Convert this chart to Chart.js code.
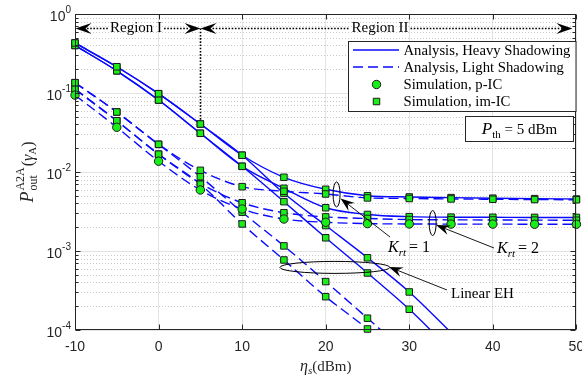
<!DOCTYPE html>
<html>
<head>
<meta charset="utf-8">
<script src="https://cdn.jsdelivr.net/npm/chart.js@4/dist/chart.umd.min.js"></script>
<style>
  html, body { margin: 0; padding: 0; background: #fff; }
  #wrap { width: 582px; height: 378px; }
</style>
</head>
<body>
<div id="wrap"><canvas id="c" width="582" height="378"></canvas></div>
<script>
// Transmit power eta_s in dBm
const etaS = [-10, -5, 0, 5, 10, 15, 20, 25, 30, 35, 40, 45, 50];

// Heavy shadowing, analysis (solid) - non-linear EH, K_rt = 1 / 2
const heavyK1 = [0.43, 0.215, 0.098, 0.0405, 0.0163, 0.00857, 0.00604, 0.00501, 0.00483, 0.00474, 0.00466, 0.0046, 0.00455];
const heavyK2 = [0.40, 0.191, 0.0815, 0.0309, 0.0118, 0.00622, 0.00353, 0.0029, 0.00272, 0.00268, 0.00267, 0.00266, 0.00266];
// Heavy shadowing, linear EH
const heavyK1Linear = [0.43, 0.215, 0.098, 0.0405, 0.0163, 0.00537, 0.0021, 0.00082, 0.000303, 0.000093, null, null, null];
const heavyK2Linear = [0.40, 0.191, 0.0815, 0.0309, 0.0118, 0.00421, 0.00147, 0.000527, 0.000183, 0.000055, null, null, null];

// Light shadowing, analysis (dashed) - non-linear EH, im-IC
const lightK1 = [0.135, 0.0575, 0.0224, 0.0105, 0.00652, 0.0057, 0.00527, 0.0047, 0.00462, 0.00456, 0.00452, 0.00448, 0.00445];
const lightK2 = [0.112, 0.0445, 0.0168, 0.00719, 0.00408, 0.00305, 0.0027, 0.00258, 0.0025, 0.00248, 0.00247, 0.00246, 0.00245];
// Light shadowing, linear EH
const lightK1Linear = [0.135, 0.0575, 0.0224, 0.00873, 0.0031, 0.00116, 0.00041, 0.000141, 0.000048, null, null, null, null];
const lightK2Linear = [0.112, 0.0445, 0.0168, 0.0070, 0.0022, 0.00077, 0.000264, 0.000103, 0.000036, null, null, null, null];
// Light shadowing, p-IC
const lightK2pIC = [0.094, 0.0368, 0.0137, 0.00592, 0.0034, 0.00254, 0.00231, 0.00222, 0.0022, 0.00219, 0.00219, 0.00218, 0.00218];

// y-axis decades
const yDecades = [0, -1, -2, -3, -4];
const xTickValues = [-10, 0, 10, 20, 30, 40, 50];

const SERIF = '"Liberation Serif", "Times New Roman", serif';
const SANS = '"Liberation Sans", Arial, sans-serif';
const AXIS = '#262626';
const BLUE = '#0a0aff';
const GREEN = '#19ee19';
const EDGE = '#1c1c1c';
const DASH = [10, 5];
const Y_MIN = 1e-4;

function pts(arr) {
  return etaS.map((x, i) => ({ x, y: arr[i] }));
}
function markerPts(arr) {
  return etaS.map((x, i) => ({ x, y: (arr[i] !== null && arr[i] >= Y_MIN) ? arr[i] : null }));
}

function lineSet(arr, dashed) {
  return {
    data: pts(arr), borderColor: BLUE, borderWidth: 1.4, borderDash: dashed ? DASH : [],
    pointRadius: 0, fill: false, cubicInterpolationMode: 'monotone', order: 2, spanGaps: false
  };
}
function markerSet(arr, style) {
  return {
    data: markerPts(arr), showLine: false, pointStyle: style,
    pointRadius: style === 'circle' ? 4.2 : 4.6,
    pointBackgroundColor: GREEN, pointBorderColor: EDGE, pointBorderWidth: 1,
    order: 0, clip: false
  };
}

const datasets = [
  lineSet(heavyK1, false), lineSet(heavyK2, false),
  lineSet(heavyK1Linear, false), lineSet(heavyK2Linear, false),
  lineSet(lightK1, true), lineSet(lightK2, true),
  lineSet(lightK1Linear, true), lineSet(lightK2Linear, true),
  lineSet(lightK2pIC, true),
  markerSet(lightK2pIC, 'circle'),
  markerSet(lightK1Linear, 'rect'), markerSet(lightK2Linear, 'rect'),
  markerSet(lightK1, 'rect'), markerSet(lightK2, 'rect'),
  markerSet(heavyK1Linear, 'rect'), markerSet(heavyK2Linear, 'rect'),
  markerSet(heavyK1, 'rect'), markerSet(heavyK2, 'rect')
];

// ---- drawing helpers ----
function arrowHead(ctx, tx, ty, ang, L, W, N) {
  ctx.save();
  ctx.translate(tx, ty);
  ctx.rotate(ang);
  ctx.beginPath();
  ctx.moveTo(0, 0);
  ctx.lineTo(-L, -W);
  ctx.lineTo(-L + N, 0);
  ctx.lineTo(-L, W);
  ctx.closePath();
  ctx.fillStyle = '#000';
  ctx.fill();
  ctx.restore();
}

// draws runs of text; part: {t, f, dy} or {sup:{t,f,dy}, sub:{t,f,dy}}
function runWidth(ctx, parts) {
  let w = 0;
  for (const p of parts) {
    if (p.sup) {
      ctx.font = p.sup.f; const a = ctx.measureText(p.sup.t).width;
      ctx.font = p.sub.f; const b = ctx.measureText(p.sub.t).width;
      w += Math.max(a, b) + (p.sp || 0);
    } else {
      ctx.font = p.f; w += ctx.measureText(p.t).width + (p.sp || 0);
    }
  }
  return w;
}
function drawRuns(ctx, x, y, parts) {
  ctx.textAlign = 'left';
  ctx.textBaseline = 'alphabetic';
  for (const p of parts) {
    if (p.sup) {
      ctx.font = p.sup.f; ctx.fillText(p.sup.t, x, y + p.sup.dy); const a = ctx.measureText(p.sup.t).width;
      ctx.font = p.sub.f; ctx.fillText(p.sub.t, x, y + p.sub.dy); const b = ctx.measureText(p.sub.t).width;
      x += Math.max(a, b) + (p.sp || 0);
    } else {
      ctx.font = p.f; ctx.fillText(p.t, x, y + (p.dy || 0));
      x += ctx.measureText(p.t).width + (p.sp || 0);
    }
  }
  return x;
}

function drawSquare(ctx, x, y) {
  ctx.save();
  ctx.fillStyle = GREEN; ctx.strokeStyle = EDGE; ctx.lineWidth = 1;
  ctx.beginPath(); ctx.rect(x - 3.25, y - 3.25, 6.5, 6.5); ctx.fill(); ctx.stroke();
  ctx.restore();
}
function drawCircle(ctx, x, y) {
  ctx.save();
  ctx.fillStyle = GREEN; ctx.strokeStyle = EDGE; ctx.lineWidth = 1;
  ctx.beginPath(); ctx.arc(x, y, 4.2, 0, Math.PI * 2); ctx.fill(); ctx.stroke();
  ctx.restore();
}

function ellipse(ctx, cx, cy, rx, ry) {
  ctx.save();
  ctx.strokeStyle = '#000'; ctx.lineWidth = 1;
  ctx.beginPath(); ctx.ellipse(cx, cy, rx, ry, 0, 0, Math.PI * 2); ctx.stroke();
  ctx.restore();
}
function pointer(ctx, fx, fy, tx, ty) {
  ctx.save();
  ctx.strokeStyle = '#000'; ctx.lineWidth = 0.9;
  const ang = Math.atan2(ty - fy, tx - fx);
  ctx.beginPath(); ctx.moveTo(fx, fy); ctx.lineTo(tx - Math.cos(ang) * 8, ty - Math.sin(ang) * 8); ctx.stroke();
  arrowHead(ctx, tx, ty, ang, 14, 5, 5);
  ctx.restore();
}

const decor = {
  id: 'decor',
  beforeDraw(chart) {
    const ctx = chart.ctx;
    ctx.save(); ctx.fillStyle = '#fff'; ctx.fillRect(0, 0, chart.width, chart.height); ctx.restore();
  },
  beforeDatasetsDraw(chart) {
    // dotted minor grid on the log axis
    const ctx = chart.ctx, a = chart.chartArea, ys = chart.scales.y;
    ctx.save();
    ctx.strokeStyle = '#c9c9c9'; ctx.lineWidth = 1; ctx.setLineDash([1, 2]);
    for (const t of ys.ticks) {
      if (t.major) continue;
      const y = Math.round(ys.getPixelForValue(t.value)) + 0.5;
      ctx.beginPath(); ctx.moveTo(a.left, y); ctx.lineTo(a.right, y); ctx.stroke();
    }
    ctx.restore();
  },
  afterDraw(chart) {
    const ctx = chart.ctx, a = chart.chartArea, xs = chart.scales.x, ys = chart.scales.y;
    const L = Math.round(a.left) + 0.5, R = Math.round(a.right) - 0.5;
    const T = Math.round(a.top) + 0.5, B = Math.round(a.bottom) - 0.5;

    // axes box with inward ticks
    ctx.save();
    ctx.strokeStyle = AXIS; ctx.lineWidth = 1;
    ctx.strokeRect(L, T, R - L, B - T);
    ctx.beginPath();
    for (const v of xTickValues) {
      const x = Math.round(xs.getPixelForValue(v)) + 0.5;
      ctx.moveTo(x, B); ctx.lineTo(x, B - 5);
      ctx.moveTo(x, T); ctx.lineTo(x, T + 5);
    }
    for (const t of ys.ticks) {
      const y = Math.round(ys.getPixelForValue(t.value)) + 0.5;
      const len = t.major ? 5 : 3;
      ctx.moveTo(L, y); ctx.lineTo(L + len, y);
      ctx.moveTo(R, y); ctx.lineTo(R - len, y);
    }
    ctx.stroke();
    ctx.restore();

    // y tick labels 10^k
    ctx.save();
    ctx.fillStyle = AXIS;
    for (const k of yDecades) {
      const y = ys.getPixelForValue(Math.pow(10, k));
      const sup = k === 0 ? '0' : '-' + (-k);
      ctx.font = '10px ' + SANS;
      const sw = ctx.measureText(sup).width;
      const xr = a.left - 4;
      ctx.textAlign = 'left'; ctx.textBaseline = 'alphabetic';
      ctx.fillText(sup, xr - sw, y - 1);
      ctx.font = '14px ' + SANS;
      ctx.textAlign = 'right';
      ctx.fillText('10', xr - sw, y + 7);
    }
    ctx.restore();

    // x axis title: eta_s(dBm)
    ctx.save();
    ctx.fillStyle = AXIS;
    const xParts = [
      { t: 'η', f: 'italic 16px ' + SERIF },
      { t: 's', f: 'italic 11px ' + SERIF, dy: 3 },
      { t: '(dBm)', f: '15px ' + SERIF }
    ];
    const xw = runWidth(ctx, xParts);
    drawRuns(ctx, (a.left + a.right) / 2 - xw / 2, 371, xParts);
    ctx.restore();

    // y axis title: P_out^A2A(gamma_A)
    ctx.save();
    ctx.fillStyle = AXIS;
    ctx.translate(33, (a.top + a.bottom) / 2);
    ctx.rotate(-Math.PI / 2);
    const yParts = [
      { t: 'P', f: 'italic 18px ' + SERIF, sp: 1 },
      { sup: { t: 'A2A', f: '12px ' + SERIF, dy: -9 }, sub: { t: 'out', f: '12px ' + SERIF, dy: 4 }, sp: 1 },
      { t: '(', f: '16px ' + SERIF },
      { t: 'γ', f: 'italic 16px ' + SERIF },
      { t: 'A', f: '11px ' + SERIF, dy: 3 },
      { t: ')', f: '16px ' + SERIF }
    ];
    const yw = runWidth(ctx, yParts);
    drawRuns(ctx, -yw / 2, 0, yParts);
    ctx.restore();

    // region markers along the top
    const x5 = Math.round(xs.getPixelForValue(5)) + 0.5;
    const ry = 28.5;
    ctx.save();
    ctx.strokeStyle = '#000'; ctx.lineWidth = 1.6; ctx.setLineDash([1.6, 1.6]);
    ctx.font = '15px ' + SERIF; ctx.fillStyle = '#000';
    ctx.textBaseline = 'middle'; ctx.textAlign = 'center';
    const r1c = 136, r1w = ctx.measureText('Region I').width;
    const r2c = 380, r2w = ctx.measureText('Region II').width;
    ctx.beginPath();
    ctx.moveTo(a.left + 12, ry); ctx.lineTo(r1c - r1w / 2 - 2, ry);
    ctx.moveTo(r1c + r1w / 2 + 2, ry); ctx.lineTo(x5 - 12, ry);
    ctx.moveTo(x5 + 12, ry); ctx.lineTo(r2c - r2w / 2 - 2, ry);
    ctx.moveTo(r2c + r2w / 2 + 2, ry); ctx.lineTo(a.right - 14, ry);
    ctx.moveTo(x5, ry); ctx.lineTo(x5, ys.getPixelForValue(0.045));
    ctx.stroke();
    ctx.setLineDash([]);
    ctx.fillText('Region I', r1c, ry);
    ctx.fillText('Region II', r2c, ry);
    arrowHead(ctx, a.left + 0.5, ry, Math.PI, 16, 5.5, 6);
    arrowHead(ctx, x5, ry, 0, 16, 5.5, 6);
    arrowHead(ctx, x5, ry, Math.PI, 16, 5.5, 6);
    arrowHead(ctx, a.right - 4, ry, 0, 16, 5.5, 6);
    ctx.restore();

    // legend
    ctx.save();
    const lx0 = 348.5, ly0 = 41.5, lx1 = 576, ly1 = 111.5;
    ctx.fillStyle = '#fff'; ctx.fillRect(lx0, ly0, lx1 - lx0, ly1 - ly0);
    ctx.strokeStyle = AXIS; ctx.lineWidth = 1; ctx.strokeRect(lx0, ly0, lx1 - lx0, ly1 - ly0);
    const rows = [50, 67, 84.5, 101.5];
    ctx.strokeStyle = BLUE; ctx.lineWidth = 1.4;
    ctx.beginPath(); ctx.moveTo(353, rows[0]); ctx.lineTo(399, rows[0]); ctx.stroke();
    ctx.setLineDash(DASH);
    ctx.beginPath(); ctx.moveTo(353, rows[1]); ctx.lineTo(399, rows[1]); ctx.stroke();
    ctx.setLineDash([]);
    drawCircle(ctx, 376.5, rows[2]);
    drawSquare(ctx, 376.5, rows[3]);
    ctx.fillStyle = '#000'; ctx.font = '14.7px ' + SERIF;
    ctx.textAlign = 'left'; ctx.textBaseline = 'middle';
    ['Analysis, Heavy Shadowing', 'Analysis, Light Shadowing', 'Simulation, p-IC', 'Simulation, im-IC']
      .forEach((s, i) => ctx.fillText(s, 403.5, rows[i] + 1));
    ctx.restore();

    // threshold box
    ctx.save();
    const bx0 = 465.5, by0 = 116.5, bx1 = 573.5, by1 = 141.5;
    ctx.fillStyle = '#fff'; ctx.fillRect(bx0, by0, bx1 - bx0, by1 - by0);
    ctx.strokeStyle = AXIS; ctx.lineWidth = 1; ctx.strokeRect(bx0, by0, bx1 - bx0, by1 - by0);
    ctx.fillStyle = '#000';
    const pParts = [
      { t: 'P', f: 'italic 17px ' + SERIF },
      { t: 'th', f: '11px ' + SERIF, dy: 4 },
      { t: ' = 5 dBm', f: '15px ' + SERIF }
    ];
    const pw = runWidth(ctx, pParts);
    drawRuns(ctx, (bx0 + bx1) / 2 - pw / 2, 134, pParts);
    ctx.restore();

    // K_rt ellipses and pointers
    const e1x = xs.getPixelForValue(21.3), e1y = ys.getPixelForValue(0.0052);
    const e2x = xs.getPixelForValue(32.8), e2y = ys.getPixelForValue(0.00226);
    const e3x = xs.getPixelForValue(21.1), e3y = ys.getPixelForValue(0.00062);
    ellipse(ctx, e1x, e1y, 3.5, 12.5);
    ellipse(ctx, e2x, e2y, 3.5, 12.5);
    ellipse(ctx, e3x, e3y, 55, 6);
    pointer(ctx, 390, 237, e1x + 4, e1y + 4);
    pointer(ctx, 494, 248, e2x + 3.5, e2y + 2);
    pointer(ctx, 447, 290, e3x + 54, e3y - 0.5);

    ctx.save();
    ctx.fillStyle = '#000';
    const kParts = n => [
      { t: 'K', f: 'italic 16px ' + SERIF },
      { t: 'rt', f: 'italic 11px ' + SERIF, dy: 4, sp: 3 },
      { t: '= ' + n, f: '16px ' + SERIF }
    ];
    drawRuns(ctx, 388, 252, kParts(1));
    drawRuns(ctx, 497, 253, kParts(2));
    ctx.font = '15px ' + SERIF; ctx.textAlign = 'left'; ctx.textBaseline = 'middle';
    ctx.fillText('Linear EH', 451, 294);
    ctx.restore();
  }
};

new Chart(document.getElementById('c').getContext('2d'), {
  type: 'line',
  data: { datasets },
  options: {
    responsive: false,
    animation: false,
    devicePixelRatio: 1,
    layout: { padding: { left: 0, right: 5, top: 14, bottom: 0 } },
    plugins: { legend: { display: false }, tooltip: { enabled: false } },
    scales: {
      x: {
        type: 'linear', min: -10, max: 50,
        ticks: { stepSize: 10, color: AXIS, font: { family: SANS, size: 14 }, padding: 9, maxRotation: 0 },
        grid: { color: '#e3e3e3', drawTicks: false },
        border: { display: false },
        afterFit: s => { s.height = 48; s.paddingLeft = 0; s.paddingRight = 0; }
      },
      y: {
        type: 'logarithmic', min: Y_MIN, max: 1,
        afterBuildTicks: s => {
          const list = [];
          for (let k = -4; k <= 0; k++) {
            for (let m = 1; m <= 9; m++) {
              const v = m * Math.pow(10, k);
              if (v > 1.0000001) break;
              list.push({ value: v, major: m === 1 });
            }
          }
          s.ticks = list;
        },
        ticks: { autoSkip: false, callback: () => '' },
        grid: { color: c => (c.tick && c.tick.major) ? '#e3e3e3' : 'rgba(0,0,0,0)', drawTicks: false },
        border: { display: false },
        afterFit: s => { s.width = 75; s.paddingTop = 0; s.paddingBottom = 0; }
      }
    }
  },
  plugins: [decor]
});
</script>
</body>
</html>
